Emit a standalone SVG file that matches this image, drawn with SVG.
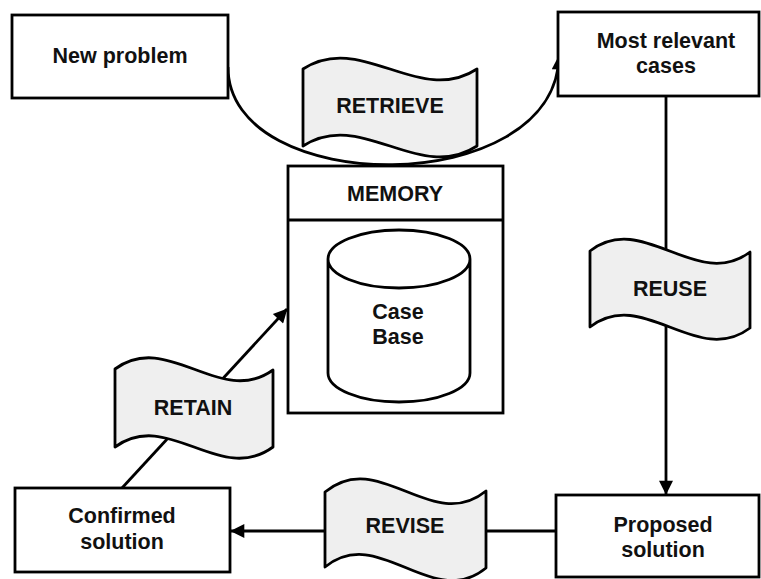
<svg xmlns="http://www.w3.org/2000/svg" width="761" height="579" viewBox="0 0 761 579">
<defs>
<style>
.box{fill:#fff;stroke:#000;stroke-width:2.8}
.tape{fill:#efefef;stroke:#000;stroke-width:2.8;stroke-linejoin:round}
.line{fill:none;stroke:#000;stroke-width:2.8}
text{font-family:"Liberation Sans",Arial,sans-serif;font-weight:bold;font-size:21.5px;text-anchor:middle;fill:#111}
</style>
<marker id="arr" viewBox="0 0 10 10" refX="9.5" refY="5" markerWidth="5.5" markerHeight="5" markerUnits="strokeWidth" orient="auto">
<path d="M0,0 L10,5 L0,10 Z" fill="#000"/>
</marker>
</defs>
<rect width="761" height="579" fill="#fff"/>
<g id="connectors">
<path class="line" d="M228,67 C228,198 556,200 559,56" marker-end="url(#arr)"/>
<path class="line" d="M666,96 L666,494" marker-end="url(#arr)"/>
<path class="line" d="M556,531 L231,531" marker-end="url(#arr)"/>
<path class="line" d="M122,488 L287,309" marker-end="url(#arr)"/>
</g>
<g id="new-problem">
<rect class="box" x="12" y="15" width="216" height="83"/>
<text x="120" y="63">New problem</text>
</g>
<g id="most-relevant">
<rect class="box" x="558" y="12" width="201" height="84"/>
<text x="666" y="48">Most relevant</text>
<text x="666" y="73">cases</text>
</g>
<g id="memory">
<rect class="box" x="288" y="166" width="215" height="247"/>
<line class="line" x1="288" y1="220" x2="503" y2="220"/>
<text x="395" y="201">MEMORY</text>
</g>
<g id="case-base">
<path class="box" d="M328,259 L328,373 A71,29 0 0 0 470,373 L470,259 A71,29 0 0 0 328,259 A71,29 0 0 0 470,259"/>
<text x="398" y="319">Case</text>
<text x="398" y="344">Base</text>
</g>
<g id="proposed">
<rect class="box" x="556" y="495" width="203" height="82"/>
<text x="663" y="532">Proposed</text>
<text x="663" y="557">solution</text>
</g>
<g id="confirmed">
<rect class="box" x="15" y="488" width="215" height="84"/>
<text x="122" y="523">Confirmed</text>
<text x="122" y="549">solution</text>
</g>
<g id="retrieve">
<path class="tape" d="M303,69 C361,31 419,107 477,69 L477,146 C419,184 361,108 303,146 Z"/>
<text x="390" y="113">RETRIEVE</text>
</g>
<g id="reuse">
<path class="tape" d="M590,251 C643,210 697,292 750,252 L750,328 C697,368 643,286 590,327 Z"/>
<text x="670" y="296">REUSE</text>
</g>
<g id="revise">
<path class="tape" d="M325,492 C379,447 432,535 486,491 L486,568 C432,612 379,523 325,567 Z"/>
<text x="405" y="533">REVISE</text>
</g>
<g id="retain">
<path class="tape" d="M115,369 C168,330 220,408 273,370 L273,447 C220,486 168,408 115,447 Z"/>
<text x="193" y="415">RETAIN</text>
</g>
</svg>
